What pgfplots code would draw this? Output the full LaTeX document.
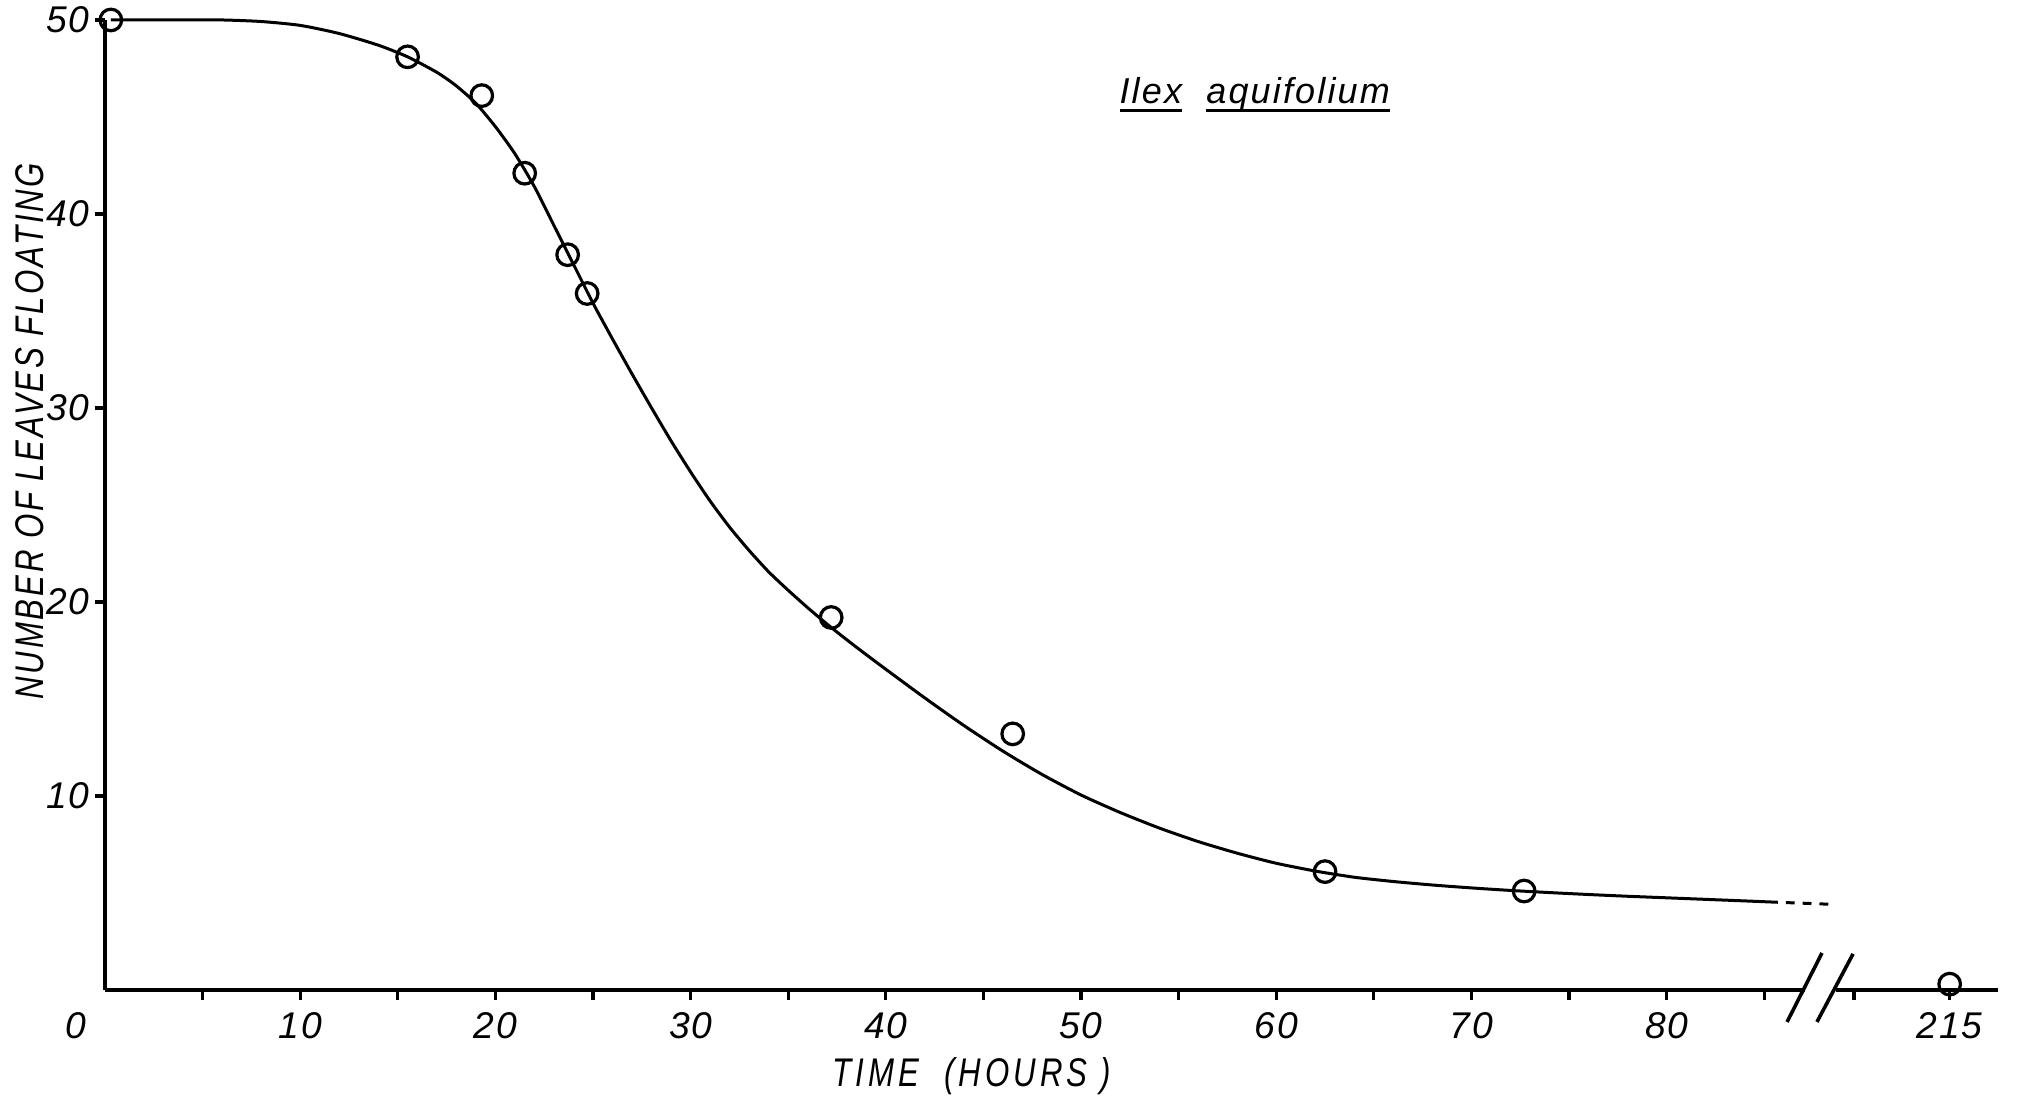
\documentclass[border=0pt]{standalone}
\usepackage{pgfplots}
\pgfplotsset{compat=1.18}
\usepackage{fontspec}
\setmainfont{Liberation Sans}
\newfontfamily\xlblfont[FakeStretch=0.78,LetterSpace=10]{Liberation Sans}
\newfontfamily\ylblfont[FakeStretch=0.78,LetterSpace=7]{Liberation Sans}
\newfontfamily\tickfont[LetterSpace=5]{Liberation Sans}
\newfontfamily\ttlfont[LetterSpace=6]{Liberation Sans}
\newcommand{\uw}[1]{\setbox0\hbox{#1}\rlap{\rule[-2pt]{\wd0}{0.8pt}}\box0}

\pgfplotstableread{
x y
0.3 50
15.5 48.1
19.3 46.1
21.5 42.1
23.7 37.9
24.7 35.9
37.2 19.2
46.5 13.2
62.5 6.1
72.7 5.1
94.5 0.3
}\points

\pgfplotstableread{
x y
0.3 50
2 50
4 50
6 50
8 49.92
10 49.72
12 49.3
14 48.7
15.5 48.1
17 47.3
18 46.6
19 45.7
20 44.5
21 43.1
22 41.4
23 39.4
24 37.4
25 35.4
26 33.55
27 31.75
28 30.0
29 28.3
30 26.7
31 25.2
32 23.85
33 22.65
34 21.55
35 20.6
36 19.7
37 18.85
38 18.05
39 17.28
40 16.53
42 15.05
44 13.63
46 12.31
48 11.11
50 10.05
52 9.15
54 8.35
56 7.65
58 7.05
60 6.53
62 6.13
64 5.81
66 5.59
68 5.41
70 5.26
72 5.13
74 5.02
76 4.92
78 4.83
80 4.75
82 4.67
84 4.59
85.7 4.52
}\curve

\begin{document}
\begin{tikzpicture}
\begin{axis}[
  x=4.88pt, y=4.85pt,
  xmin=0, xmax=97, ymin=0, ymax=50,
  axis lines*=left,
  x axis line style={draw=none},
  y axis line style={line width=0.8pt},
  clip=false,
  tick align=outside,
  major tick length=2.6pt, minor tick length=2.6pt,
  every tick/.style={black, line width=0.8pt},
  xtick={10,20,30,40,50,60,70,80,94.5},
  xticklabels={10,20,30,40,50,60,70,80,215},
  minor xtick={5,15,25,35,45,55,65,75,85,89.6},
  ytick={10,20,30,40,50},
  yticklabels={10,20,30,40,50},
  ticklabel style={font=\fontsize{9.3}{11}\tickfont\itshape},
  xticklabel style={anchor=center, yshift=-6.25pt},
  yticklabel style={anchor=east, xshift=2.2pt},
  xlabel={\xlblfont\itshape TIME\ \ (HOURS )},
  ylabel={\ylblfont\itshape NUMBER OF LEAVES FLOATING},
  label style={font=\fontsize{10}{12}\selectfont},
  xlabel style={at={(axis description cs:0.4577,-0.0886)}, anchor=center},
  ylabel style={at={(axis description cs:-0.0396,0.576)}, anchor=center},
]
\addplot[black, line width=0.75pt, smooth, tension=0.4] table[x=x,y=y]{\curve};
\addplot[black, line width=0.75pt, dash pattern=on 2.2pt off 2pt, dash phase=2.2pt] coordinates {(85.7,4.52) (88.3,4.42)};
\addplot[only marks, mark=o, mark size=2.7pt, mark options={line width=0.8pt, black}] table[x=x,y=y]{\points};
\draw[line width=0.9pt] (axis cs:0,0) -- (axis cs:87.1,0);
\draw[line width=0.9pt] (axis cs:88.7,0) -- (axis cs:97,0);
\draw[line width=0.9pt] (axis cs:86.17,-1.65) -- (axis cs:87.96,1.91);
\draw[line width=0.9pt] (axis cs:87.7,-1.65) -- (axis cs:89.55,1.86);
\node[font=\fontsize{9.3}{11}\tickfont\itshape, anchor=center] at (axis cs:-1.49,-1.85) {0};
\node[font=\fontsize{9}{11}\ttlfont\itshape, anchor=base] at (axis cs:58.9,45.67) {\uw{Ilex}\ \ \uw{aquifolium}};
\coordinate (bbll) at (axis cs:-5.38,-5.52);
\coordinate (bbur) at (axis cs:98.0,51.03);
\end{axis}
\pgfresetboundingbox
\useasboundingbox (bbll) rectangle (bbur);
\end{tikzpicture}
\end{document}
